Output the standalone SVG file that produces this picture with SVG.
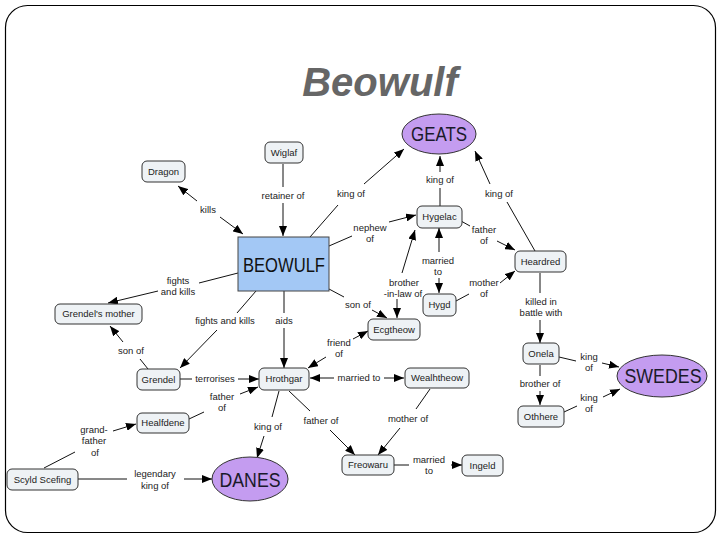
<svg xmlns="http://www.w3.org/2000/svg" width="720" height="540" viewBox="0 0 720 540">
<defs>
<marker id="ah" viewBox="0 0 10 8" refX="10" refY="4" markerWidth="10" markerHeight="8" markerUnits="userSpaceOnUse" orient="auto-start-reverse"><path d="M0,0 L10,4 L0,8 z" fill="#000"/></marker>
<style>
.n rect{fill:#eef2f5;stroke:#333;stroke-width:1}
.n text{font-family:"Liberation Sans",Arial,sans-serif;font-size:9.5px;fill:#222;text-anchor:middle}
.e ellipse{fill:#c49cf0;stroke:#333;stroke-width:1}
.e text{font-family:"Liberation Sans",Arial,sans-serif;font-size:20px;fill:#1a1a2a;text-anchor:middle}
#connectors line{stroke:#111;stroke-width:1}
#connectors .a{marker-end:url(#ah)}
#connectors .b{marker-start:url(#ah)}
.l{font-family:"Liberation Sans",Arial,sans-serif;font-size:9.5px;fill:#222;text-anchor:middle}
</style>
</defs>
<rect x="5.5" y="5.5" width="710" height="527" rx="22" fill="#fff" stroke="#000" stroke-width="1.2"/>
<text x="380" y="96" font-family="Liberation Sans,Arial,sans-serif" font-size="40" font-weight="bold" font-style="italic" fill="#666" text-anchor="middle">Beowulf</text>

<g id="connectors">
<line x1="283" y1="164" x2="283" y2="187"/><line class="a" x1="283" y1="203" x2="283" y2="236"/>
<line class="a" x1="197" y1="201" x2="178" y2="186"/><line class="a" x1="220" y1="217" x2="243" y2="234"/>
<line x1="310" y1="237" x2="338" y2="205"/><line class="a" x1="364" y1="184" x2="404" y2="149"/>
<line x1="329" y1="246" x2="352" y2="236"/><line class="a" x1="389" y1="222" x2="416" y2="215"/>
<line x1="440" y1="206" x2="440" y2="188"/><line class="a" x1="440" y1="172" x2="440" y2="156"/>
<line x1="535" y1="251" x2="507" y2="202"/><line class="a" x1="490" y1="184" x2="475" y2="151"/>
<line x1="461" y1="221" x2="470" y2="226"/><line class="a" x1="497" y1="241" x2="515" y2="250"/>
<line class="a b" x1="439" y1="228" x2="439" y2="252" style="marker-end:none"/><line class="a" x1="439" y1="278" x2="439" y2="293"/>
<line x1="456" y1="301" x2="469" y2="294"/><line class="a" x1="500" y1="283" x2="515" y2="271"/>
<line class="b" x1="415" y1="230" x2="402" y2="273"/><line class="a" x1="397" y1="299" x2="397" y2="318"/>
<line x1="329" y1="289" x2="344" y2="297"/><line class="a" x1="372" y1="310" x2="387" y2="318"/>
<line x1="238" y1="273" x2="199" y2="283"/><line class="a" x1="158" y1="291" x2="108" y2="303"/>
<line x1="256" y1="291" x2="237" y2="313"/><line class="a" x1="217" y1="330" x2="180" y2="368"/>
<line x1="284" y1="291" x2="284" y2="313"/><line class="a" x1="284" y1="328" x2="284" y2="368"/>
<line class="b" x1="368" y1="331" x2="353" y2="339"/><line class="a" x1="326" y1="357" x2="308" y2="368"/>
<line x1="180" y1="379" x2="192" y2="379"/><line class="a" x1="238" y1="379" x2="259" y2="379"/>
<line x1="148" y1="369" x2="140" y2="359"/><line class="a" x1="123" y1="342" x2="110" y2="326"/>
<line class="b" x1="310" y1="378" x2="334" y2="378"/><line class="a" x1="384" y1="378" x2="404" y2="378"/>
<line x1="189" y1="419" x2="204" y2="412"/><line class="a" x1="240" y1="394" x2="258" y2="387"/>
<line x1="44" y1="468" x2="75" y2="452"/><line class="a" x1="113" y1="431" x2="136" y2="424"/>
<line x1="78" y1="479" x2="127" y2="479"/><line class="a" x1="184" y1="479" x2="212" y2="479"/>
<line x1="279" y1="391" x2="272" y2="417"/><line class="a" x1="264" y1="436" x2="257" y2="458"/>
<line x1="289" y1="391" x2="310" y2="411"/><line class="a" x1="330" y1="430" x2="355" y2="455"/>
<line x1="430" y1="389" x2="416" y2="409"/><line class="a" x1="400" y1="428" x2="378" y2="455"/>
<line x1="394" y1="465" x2="409" y2="465"/><line class="a" x1="451" y1="465" x2="462" y2="465"/>
<line x1="540" y1="273" x2="540" y2="293"/><line class="a" x1="540" y1="320" x2="540" y2="343"/>
<line x1="559" y1="357" x2="576" y2="361"/><line class="a" x1="602" y1="363" x2="619" y2="367"/>
<line x1="540" y1="365" x2="540" y2="376"/><line class="a" x1="540" y1="391" x2="540" y2="405"/>
<line x1="564" y1="412" x2="577" y2="406"/><line class="a" x1="603" y1="397" x2="620" y2="389"/>
</g>

<g id="labels">
<text class="l" x="283" y="199">retainer of</text>
<text class="l" x="208" y="213">kills</text>
<text class="l" x="351" y="197">king of</text>
<text class="l" x="370" y="231">nephew</text><text class="l" x="370" y="242">of</text>
<text class="l" x="440" y="183">king of</text>
<text class="l" x="499" y="197">king of</text>
<text class="l" x="484" y="233">father</text><text class="l" x="484" y="244">of</text>
<text class="l" x="438" y="264">married</text><text class="l" x="438" y="275">to</text>
<text class="l" x="484" y="286">mother</text><text class="l" x="484" y="297">of</text>
<text class="l" x="404" y="286">brother</text><text class="l" x="403" y="297">-in-law of</text>
<text class="l" x="358" y="308">son of</text>
<text class="l" x="178" y="284">fights</text><text class="l" x="178" y="295">and kills</text>
<text class="l" x="225" y="324">fights and kills</text>
<text class="l" x="284" y="324">aids</text>
<text class="l" x="339" y="346">friend</text><text class="l" x="339" y="357">of</text>
<text class="l" x="215" y="382">terrorises</text>
<text class="l" x="131" y="354">son of</text>
<text class="l" x="359" y="381">married to</text>
<text class="l" x="222" y="400">father</text><text class="l" x="222" y="411">of</text>
<text class="l" x="94" y="433">grand-</text><text class="l" x="94" y="444">father</text><text class="l" x="95" y="456">of</text>
<text class="l" x="155" y="477">legendary</text><text class="l" x="155" y="489">king of</text>
<text class="l" x="268" y="430">king of</text>
<text class="l" x="321" y="424">father of</text>
<text class="l" x="408" y="422">mother of</text>
<text class="l" x="429" y="463">married</text><text class="l" x="429" y="474">to</text>
<text class="l" x="541" y="305">killed in</text><text class="l" x="541" y="316">battle with</text>
<text class="l" x="589" y="360">king</text><text class="l" x="589" y="371">of</text>
<text class="l" x="540" y="387">brother of</text>
<text class="l" x="589" y="401">king</text><text class="l" x="589" y="412">of</text>
</g>

<g id="GEATS" class="e"><ellipse cx="439" cy="134" rx="37" ry="20"/><text x="439" y="141" textLength="56" lengthAdjust="spacingAndGlyphs">GEATS</text></g>
<g id="SWEDES" class="e"><ellipse cx="662" cy="376" rx="45" ry="21"/><text x="663" y="383" textLength="77" lengthAdjust="spacingAndGlyphs">SWEDES</text></g>
<g id="DANES" class="e"><ellipse cx="250" cy="479" rx="38" ry="22"/><text x="250" y="487" font-size="22" textLength="61" lengthAdjust="spacingAndGlyphs">DANES</text></g>
<g id="BEOWULF"><rect x="238" y="237" width="91" height="54" fill="#a3c8f5" stroke="#444" stroke-width="1"/><text x="284" y="272" font-family="Liberation Sans,Arial,sans-serif" font-size="21" fill="#111" text-anchor="middle" textLength="82" lengthAdjust="spacingAndGlyphs">BEOWULF</text></g>
<g id="Wiglaf" class="n"><rect x="265" y="142" width="38" height="21" rx="5"/><text x="284" y="156">Wiglaf</text></g>
<g id="Dragon" class="n"><rect x="142" y="161" width="43" height="21" rx="5"/><text x="163.5" y="175">Dragon</text></g>
<g id="Hygelac" class="n"><rect x="417" y="206" width="45" height="22" rx="5"/><text x="439.5" y="220">Hygelac</text></g>
<g id="Heardred" class="n"><rect x="515" y="251" width="51" height="21" rx="5"/><text x="540.5" y="265">Heardred</text></g>
<g id="Hygd" class="n"><rect x="423" y="294" width="33" height="22" rx="5"/><text x="439.5" y="308">Hygd</text></g>
<g id="Ecgtheow" class="n"><rect x="368" y="319" width="52" height="21" rx="5"/><text x="394" y="333">Ecgtheow</text></g>
<g id="Grendels_mother" class="n"><rect x="55" y="304" width="87" height="20" rx="5"/><text x="98.5" y="317">Grendel's mother</text></g>
<g id="Grendel" class="n"><rect x="137" y="369" width="43" height="21" rx="5"/><text x="158.5" y="383">Grendel</text></g>
<g id="Hrothgar" class="n"><rect x="259" y="368" width="50" height="22" rx="5"/><text x="284" y="382">Hrothgar</text></g>
<g id="Wealhtheow" class="n"><rect x="405" y="368" width="64" height="20" rx="5"/><text x="437" y="381">Wealhtheow</text></g>
<g id="Onela" class="n"><rect x="523" y="343" width="36" height="21" rx="5"/><text x="541" y="357">Onela</text></g>
<g id="Othhere" class="n"><rect x="518" y="406" width="46" height="21" rx="5"/><text x="541" y="420">Othhere</text></g>
<g id="Healfdene" class="n"><rect x="137" y="413" width="52" height="20" rx="5"/><text x="163" y="426">Healfdene</text></g>
<g id="Scyld_Scefing" class="n"><rect x="7" y="469" width="71" height="21" rx="5"/><text x="42.5" y="483">Scyld Scefing</text></g>
<g id="Freowaru" class="n"><rect x="342" y="455" width="52" height="20" rx="5"/><text x="368" y="468">Freowaru</text></g>
<g id="Ingeld" class="n"><rect x="462" y="455" width="41" height="21" rx="5"/><text x="482.5" y="469">Ingeld</text></g>
</svg>
